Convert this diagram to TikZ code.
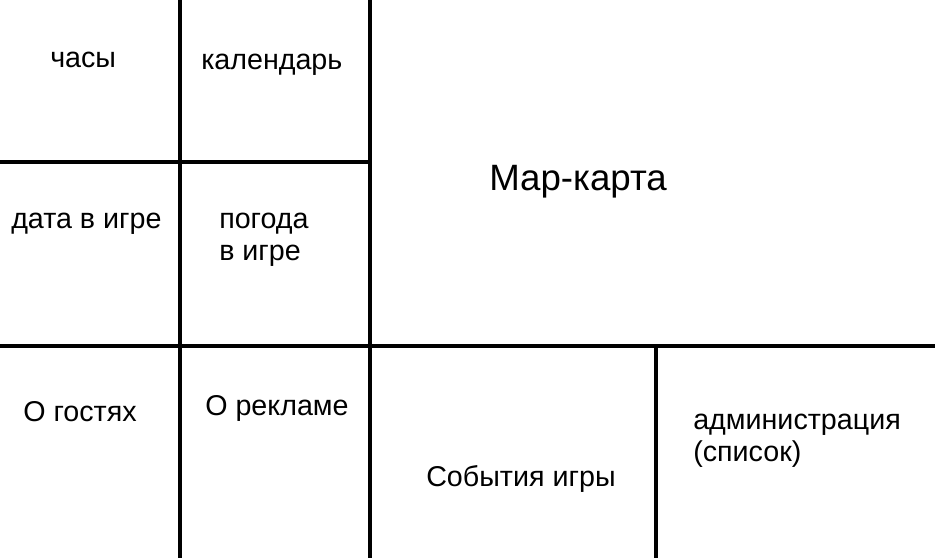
\documentclass[tikz,border=0pt]{standalone}
\usepackage{fontspec}
\setmainfont{Liberation Sans}
\usetikzlibrary{positioning}

\begin{document}
\begin{tikzpicture}[x=0.75pt,y=-0.75pt,
    wall/.style={line width=2.3pt,line cap=rect},
    label/.style={anchor=base west,inner sep=0pt,font=\fontsize{21.5}{24}\selectfont,align=left},
    biglabel/.style={label,font=\fontsize{27.5}{30}\selectfont}]
        \useasboundingbox (0,0) rectangle (935,557);

        % Grid lines
        \draw[wall] (180,0) -- (180,557);
        \draw[wall] (370,0) -- (370,557);
        \draw[wall] (0,162) -- (370,162);
        \draw[wall] (0,346) -- (935,346);
        \draw[wall] (656,346) -- (656,557);

        % Upper left boxes
        \node[label] (clock) at (50,67) {часы};
        \node[label] (calendar) at (201,69) {календарь};
        \node[label] (gamedate) at (11,228) {дата в игре};
        \node[label] (weather) at (219,260) {погода\\в игре};

        % Map
        \node[biglabel] (map) at (489,190) {Мар-карта};

        % Bottom row
        \node[label] (guests) at (23,421) {О гостях};
        \node[label] (ads) at (205,415) {О рекламе};
        \node[label] (events) at (426,486) {События игры};
        \node[label] (admin) at (693,461) {администрация\\(список)};
    \end{tikzpicture}
\end{document}
